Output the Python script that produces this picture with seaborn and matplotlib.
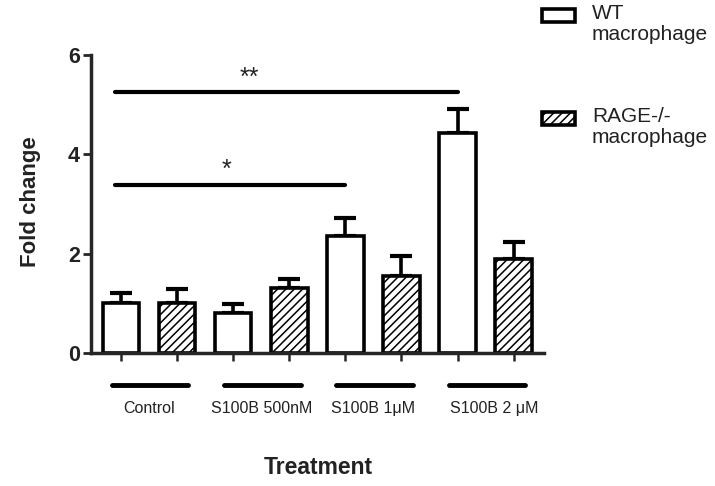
import numpy as np
import pandas as pd
import seaborn as sns
import matplotlib.pyplot as plt
from matplotlib.patches import Rectangle

treatments = ["Control", "S100B 500nM", "S100B 1\u03bcM", "S100B 2 \u03bcM"]
genotypes = ["WT", "RAGE-/-"]
wt_mean = [1.00, 0.80, 2.35, 4.43]
wt_sem = [0.20, 0.19, 0.37, 0.48]
rage_mean = [1.00, 1.30, 1.56, 1.89]
rage_sem = [0.29, 0.19, 0.39, 0.35]
# (first bar, last bar, height, label)
comparisons = [(0, 4, 3.38, "*"), (0, 6, 5.25, "**")]

sns.set_theme(style="ticks")
plt.rcParams["font.family"] = ["Liberation Sans", "DejaVu Sans"]
plt.rcParams["hatch.linewidth"] = 1.1
plt.rcParams["hatch.color"] = "black"

rows = []
for i, t in enumerate(treatments):
    rows.append({"bar": t + " WT", "genotype": "WT", "fold": wt_mean[i], "sem": wt_sem[i]})
    rows.append({"bar": t + " RAGE", "genotype": "RAGE-/-", "fold": rage_mean[i], "sem": rage_sem[i]})
df = pd.DataFrame(rows)

fig = plt.figure(figsize=(7.15, 4.86), dpi=100)
ax = fig.add_axes([0.1273, 0.2737, 0.6335, 0.6131])

sns.barplot(data=df, x="bar", y="fold", hue="genotype", hue_order=genotypes,
            order=list(df["bar"]), dodge=False, width=0.65, errorbar=None,
            palette={"WT": "white", "RAGE-/-": "white"}, saturation=1,
            edgecolor="black", linewidth=2.6, legend=False, ax=ax)
for p in ax.containers[1]:
    p.set_hatch("////")
for c in ax.containers:
    for p in c:
        p.set_joinstyle("miter")
        p.set_zorder(2)

xs = np.arange(len(df))
ax.errorbar(xs, df["fold"], yerr=[np.zeros(len(df)), df["sem"]], fmt="none",
            ecolor="black", elinewidth=2.6, capsize=8, capthick=3, zorder=1)

# significance bars
for a, b, h, lab in comparisons:
    ax.plot([a - 0.1, b], [h, h], color="black", lw=3, solid_capstyle="round", clip_on=False)
    sx = a + (0.47 if lab == "*" else 0.38) * (b - a)
    ax.text(sx, h + 0.3, lab, ha="center", va="center", fontsize=18, color="#222222")

# group underlines and labels
for g, t in enumerate(treatments):
    c = 2 * g + 0.5
    ax.plot([c - 0.66, c + 0.7], [-0.65, -0.65], color="black", lw=3.5,
            solid_capstyle="round", clip_on=False)
    ax.text(c + (0.15 if g == 3 else 0), -1.12, t, ha="center", va="center",
            fontsize=11.5, color="#222222")

ax.set_xlim(-0.535, 7.54)
ax.set_ylim(0, 6)
ax.set_yticks([0, 2, 4, 6])
ax.set_xticks(xs)
ax.set_xticklabels([])
ax.set_xlabel("")
ax.set_ylabel("")
ax.tick_params(axis="y", length=6, width=2, pad=2, labelsize=15.5)
ax.tick_params(axis="x", length=6, width=1.8)
for lab in ax.get_yticklabels():
    lab.set_fontweight("bold")
    lab.set_color("#222222")
for s in ["left", "bottom"]:
    ax.spines[s].set_linewidth(2.5)
sns.despine(ax=ax)

fig.text(0.042, 0.585, "Fold change", rotation=90, ha="center", va="center",
         fontsize=16, fontweight="bold", color="#222222")
fig.text(0.445, 0.039, "Treatment", ha="center", va="center",
         fontsize=16.5, fontweight="bold", color="#222222")

# legend
fig.add_artist(Rectangle((0.7580, 1 - 22 / 486), 0.046, 13 / 486, transform=fig.transFigure,
                         facecolor="white", edgecolor="black", lw=2.6))
fig.add_artist(Rectangle((0.7580, 1 - 125 / 486), 0.046, 13 / 486, transform=fig.transFigure,
                         facecolor="white", edgecolor="black", lw=2.6, hatch="////"))
fig.text(592 / 715, 1 - 4 / 486, "WT\nmacrophage", ha="left", va="top",
         fontsize=15, linespacing=1.15, color="#222222")
fig.text(592 / 715, 1 - 107 / 486, "RAGE-/-\nmacrophage", ha="left", va="top",
         fontsize=15, linespacing=1.15, color="#222222")

fig.savefig("out.png", dpi=100)
